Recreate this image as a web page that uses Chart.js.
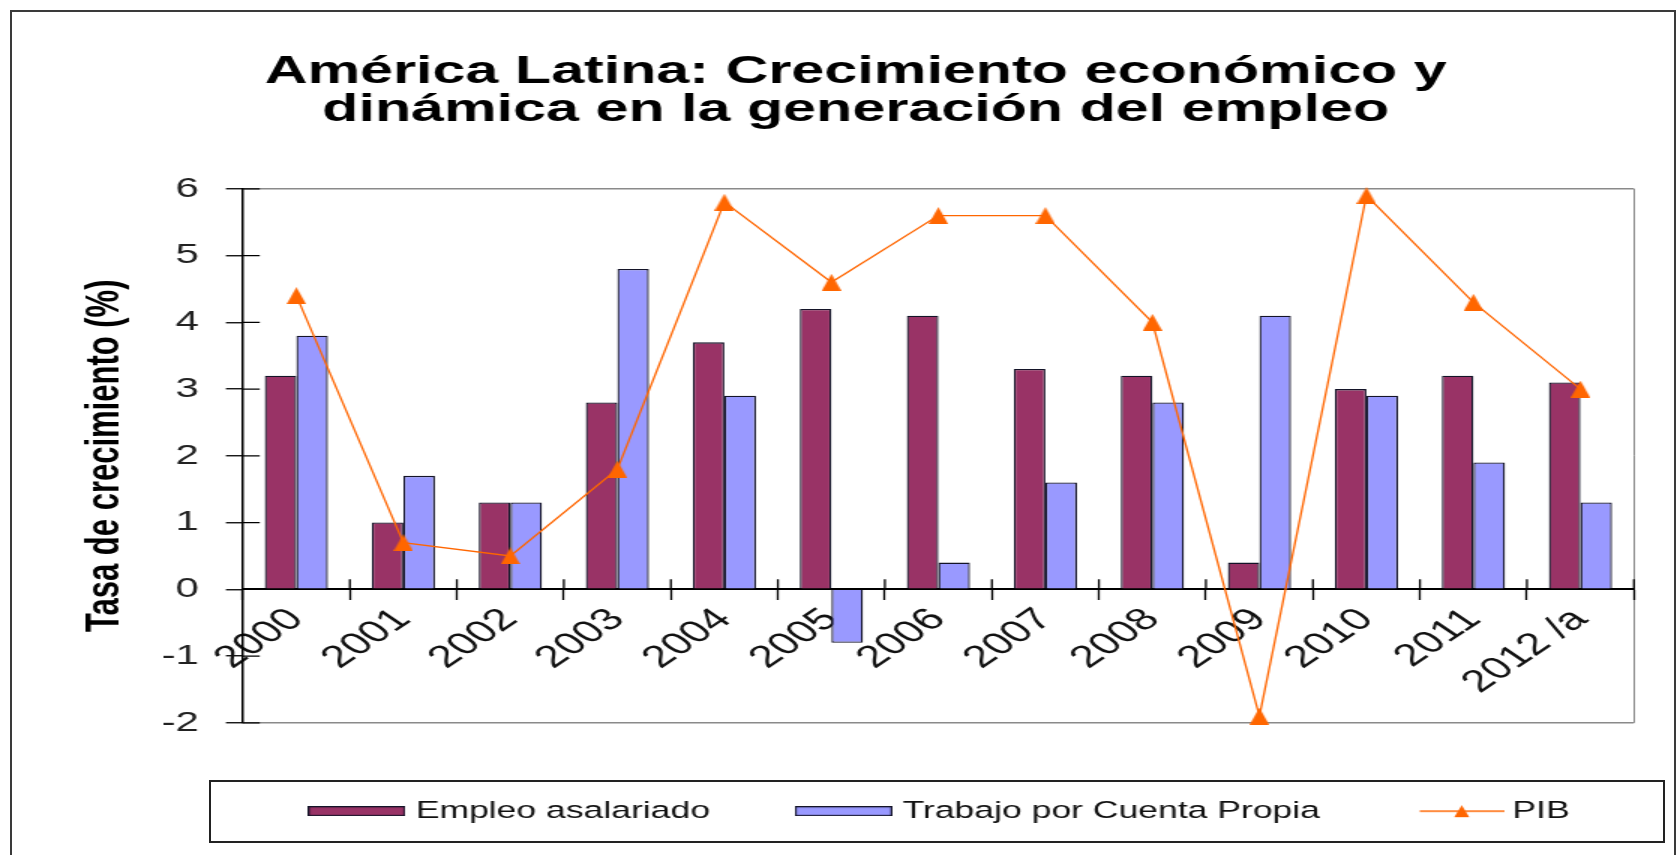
<!DOCTYPE html>
<html lang="es">
<head>
<meta charset="utf-8">
<title>América Latina: Crecimiento económico y dinámica en la generación del empleo</title>
<script src="https://cdn.jsdelivr.net/npm/chart.js@4/dist/chart.umd.min.js"></script>
<style>
    html, body { margin: 0; padding: 0; background: #fff; }
    #page { position: relative; width: 1680px; height: 855px; overflow: hidden; background: #fff; }
    /* the original picture is stretched sideways, so the chart is drawn narrow and scaled */
    #stretch { position: absolute; left: 0; top: 0; width: 1120px; height: 855px; transform: scaleX(1.5); transform-origin: 0 0; }
    #outerFrame { position: absolute; left: 10px; top: 10px; width: 1662px; height: 900px; border: 2px solid #3a3a3a; }
    #legendFrame { position: absolute; left: 209px; top: 780px; width: 1452px; height: 59px; border: 2px solid #222; }
</style>
</head>
<body>
<div id="page">
    <div id="outerFrame"></div>
    <div id="stretch"><canvas id="empleoChart"></canvas></div>
    <div id="legendFrame"></div>
</div>
<script>
// Data
const categories = ['2000', '2001', '2002', '2003', '2004', '2005', '2006', '2007', '2008', '2009', '2010', '2011', '2012 /a'];
const empleoAsalariado = [3.2, 1.0, 1.3, 2.8, 3.7, 4.2, 4.1, 3.3, 3.2, 0.4, 3.0, 3.2, 3.1];
const trabajoCuentaPropia = [3.8, 1.7, 1.3, 4.8, 2.9, -0.8, 0.4, 1.6, 2.8, 4.1, 2.9, 1.9, 1.3];
const pib = [4.4, 0.7, 0.5, 1.8, 5.8, 4.6, 5.6, 5.6, 4.0, -1.9, 5.9, 4.3, 3.0];
const yMin = -2;
const yMax = 6;

const FONT = "'Liberation Sans', Arial, sans-serif";
const MAROON = '#993366';
const LILAC = '#9999FF';
const ORANGE = '#FF6600';
const BAR_EDGE = '#141428';

// Small canvas images used as markers (drawn in unstretched units)
function makeMark(w, h, draw) {
    const c = document.createElement('canvas');
    c.width = w;
    c.height = h;
    draw(c.getContext('2d'), w, h);
    return c;
}

function triangle(ctx, w, h) {
    ctx.fillStyle = ORANGE;
    ctx.beginPath();
    ctx.moveTo(w / 2, 0);
    ctx.lineTo(w, h);
    ctx.lineTo(0, h);
    ctx.closePath();
    ctx.fill();
}

const pointTriangle = makeMark(13, 17, triangle);

function swatch(color) {
    return makeMark(65, 10, (ctx, w, h) => {
        ctx.fillStyle = color;
        ctx.fillRect(0.5, 0.5, w - 1, h - 1);
        ctx.strokeStyle = BAR_EDGE;
        ctx.lineWidth = 1.2;
        ctx.strokeRect(0.6, 0.6, w - 1.2, h - 1.2);
    });
}

// legend line marker: the visible part sits to the right of the image centre
const legendMarks = [
    swatch(MAROON),
    swatch(LILAC),
    makeMark(68, 14, (ctx, w, h) => {
        ctx.strokeStyle = ORANGE;
        ctx.lineWidth = 1.3;
        ctx.beginPath();
        ctx.moveTo(11.5, h / 2);
        ctx.lineTo(w, h / 2);
        ctx.stroke();
        ctx.save();
        ctx.translate(39.5 - 5, 1);
        triangle(ctx, 10, 12);
        ctx.restore();
    })
];

// Legend sits to the right of centre and a little lower than Chart.js puts it
const legendShift = {
    id: 'legendShift',
    afterLayout(chart) {
        const lg = chart.legend;
        lg.left += 58;
        lg.right += 58;
        lg.top += 15;
        lg.bottom += 15;
    }
};

// Tick marks that cross the axes, as in the original
const crossTicks = {
    id: 'crossTicks',
    afterDatasetsDraw(chart) {
        const { ctx, scales: { x, y } } = chart;
        ctx.save();
        ctx.strokeStyle = '#000';
        ctx.lineWidth = 1.3;
        ctx.beginPath();
        y.ticks.forEach((t, i) => {
            const py = y.getPixelForTick(i);
            ctx.moveTo(y.right, py);
            ctx.lineTo(y.right + 11.3, py);
        });
        const zero = y.getPixelForValue(0);
        const n = x.ticks.length;
        for (let i = 1; i <= n; i++) {
            const px = x.left + i * x.width / n;
            ctx.moveTo(px, zero);
            ctx.lineTo(px, zero - 10);
        }
        ctx.stroke();
        ctx.restore();
    }
};

const ctx = document.getElementById('empleoChart').getContext('2d');
new Chart(ctx, {
    data: {
        labels: categories,
        datasets: [
            {
                type: 'bar',
                label: 'Empleo asalariado',
                data: empleoAsalariado,
                backgroundColor: MAROON,
                borderColor: BAR_EDGE,
                borderWidth: 1.3,
                pointStyle: legendMarks[0],
                order: 1
            },
            {
                type: 'bar',
                label: 'Trabajo por Cuenta Propia',
                data: trabajoCuentaPropia,
                backgroundColor: LILAC,
                borderColor: BAR_EDGE,
                borderWidth: 1.3,
                pointStyle: legendMarks[1],
                order: 1
            },
            {
                type: 'line',
                label: 'PIB',
                data: pib,
                borderColor: ORANGE,
                backgroundColor: ORANGE,
                borderWidth: 1.3,
                tension: 0,
                pointStyle: pointTriangle,
                pointRadius: 7,
                pointHoverRadius: 7,
                clip: false,
                order: 0
            }
        ]
    },
    options: {
        responsive: true,
        maintainAspectRatio: false,
        animation: false,
        datasets: {
            bar: { categoryPercentage: 0.59, barPercentage: 1.0 }
        },
        layout: {
            padding: { top: 0, left: 51.5, right: 30.7, bottom: 37 }
        },
        scales: {
            x: {
                type: 'category',
                position: { y: 0 },
                offset: true,
                grid: {
                    offset: true,
                    drawOnChartArea: true,
                    color: c => (c.type === 'tick' ? 'rgba(0,0,0,0)' : '#8a8a8a'),
                    tickColor: '#000',
                    lineWidth: 1,
                    tickWidth: 1.3,
                    tickLength: 10
                },
                border: { color: '#000', width: 2 },
                ticks: {
                    autoSkip: false,
                    maxRotation: 45,
                    minRotation: 45,
                    padding: 2,
                    color: '#111',
                    font: { family: FONT, size: 31 }
                }
            },
            y: {
                min: yMin,
                max: yMax,
                grid: {
                    drawOnChartArea: true,
                    color: c => (c.tick && (c.tick.value === yMax || c.tick.value === yMin) ? '#8a8a8a' : 'rgba(0,0,0,0)'),
                    tickColor: '#000',
                    lineWidth: 1.5,
                    tickWidth: 1.3,
                    tickLength: 11.3
                },
                border: { color: '#000', width: 1.5 },
                ticks: {
                    stepSize: 1,
                    padding: 18,
                    color: '#222',
                    font: { family: FONT, size: 28 }
                },
                title: {
                    display: true,
                    text: 'Tasa de crecimiento (%)',
                    color: '#000',
                    font: { family: FONT, size: 31, weight: 'bold' },
                    padding: { top: 0, bottom: 1 }
                }
            }
        },
        plugins: {
            title: {
                display: true,
                text: ['América Latina: Crecimiento económico y', 'dinámica en la generación del empleo'],
                color: '#000',
                font: { family: FONT, size: 39.5, weight: 'bold', lineHeight: 0.96 },
                padding: { top: 53, bottom: 60 }
            },
            legend: {
                position: 'bottom',
                labels: {
                    usePointStyle: true,
                    pointStyleWidth: 55,
                    boxHeight: 9,
                    padding: 61.5,
                    color: '#111',
                    font: { family: FONT, size: 23.7 },
                    sort: (a, b) => a.datasetIndex - b.datasetIndex,
                    generateLabels: chart => Chart.defaults.plugins.legend.labels.generateLabels(chart)
                        .map(item => ({ ...item, pointStyle: legendMarks[item.datasetIndex] }))
                }
            },
            tooltip: { enabled: false }
        }
    },
    plugins: [legendShift, crossTicks]
});
</script>
</body>
</html>
